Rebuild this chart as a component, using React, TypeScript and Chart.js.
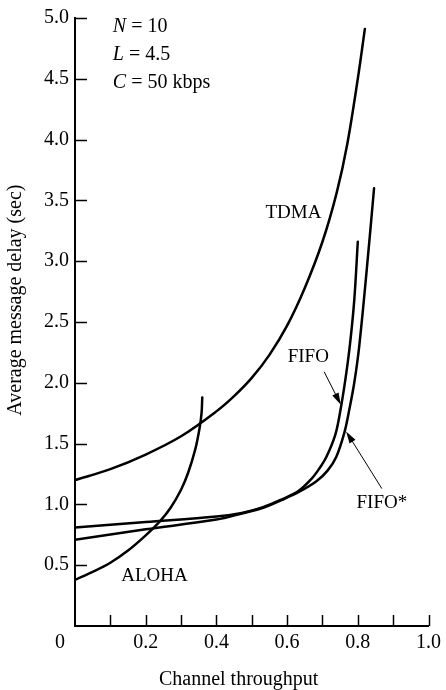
import React, { useEffect, useRef } from "react";
import { Chart, registerables } from "chart.js";

Chart.register(...registerables);

// ---- data ----
const tdmaX = [0, 0.1, 0.2, 0.3, 0.4, 0.45, 0.5, 0.55, 0.6, 0.65, 0.7, 0.74, 0.77, 0.8, 0.82];
const tdmaY = [1.2, 1.29, 1.41, 1.56, 1.765, 1.89, 2.04, 2.23, 2.47, 2.78, 3.16, 3.56, 3.96, 4.5, 4.91];

const alohaX = [0, 0.05, 0.1, 0.15, 0.2, 0.24, 0.27, 0.3, 0.32, 0.34, 0.352, 0.358, 0.36];
const alohaY = [0.38, 0.445, 0.52, 0.62, 0.745, 0.86, 0.97, 1.12, 1.26, 1.45, 1.62, 1.75, 1.88];

const fifoX = [0, 0.2, 0.4, 0.472, 0.53, 0.584, 0.632, 0.669, 0.69, 0.711, 0.736, 0.75, 0.765, 0.778, 0.79, 0.8];
const fifoY = [0.81, 0.855, 0.9, 0.93, 0.975, 1.04, 1.11, 1.21, 1.29, 1.39, 1.57, 1.76, 2.03, 2.32, 2.68, 3.16];

const fifoStarX = [0, 0.2, 0.4, 0.472, 0.53, 0.584, 0.632, 0.683, 0.715, 0.739, 0.762, 0.776, 0.79, 0.804, 0.825, 0.846];
const fifoStarY = [0.71, 0.795, 0.875, 0.925, 0.97, 1.035, 1.1, 1.19, 1.28, 1.39, 1.59, 1.78, 2.0, 2.3, 2.92, 3.6];

const xMin = 0;
const xMax = 1.0;
const xStep = 0.1;
const yMin = 0;
const yMax = 5.0;
const yStep = 0.5;

const xTitle = "Channel throughput";
const yTitle = "Average message delay (sec)";
const paramLines = [
  { sym: "N", rest: " = 10" },
  { sym: "L", rest: " = 4.5" },
  { sym: "C", rest: " = 50 kbps" },
];

// annotation placement (data coordinates)
const paramPos = { x: 0.107, y: [4.93, 4.7, 4.47] };
const curveLabels = [
  { text: "TDMA", x: 0.618, y: 3.4 },
  { text: "ALOHA", x: 0.225, y: 0.41 },
  { text: "FIFO", x: 0.66, y: 2.21 },
  { text: "FIFO*", x: 0.868, y: 1.01 },
];
const arrows = [
  { x1: 0.705, y1: 2.09, x2: 0.752, y2: 1.82 },
  { x1: 0.868, y1: 1.13, x2: 0.767, y2: 1.6 },
];

const FONT_FAMILY = "'Liberation Serif', 'Times New Roman', serif";

const toPoints = (xs: number[], ys: number[]) => xs.map((x, i) => ({ x, y: ys[i] }));

const overlayPlugin = {
  id: "overlay",
  afterDraw(chart: any) {
    const { ctx, scales } = chart;
    const x = scales.x;
    const y = scales.y;
    ctx.save();
    ctx.strokeStyle = "#000";
    ctx.fillStyle = "#000";
    ctx.lineWidth = 1.5;

    // inward tick marks
    x.ticks.forEach((t: any) => {
      if (Math.abs(t.value) < 1e-9) return;
      const px = Math.round(x.getPixelForValue(t.value)) + 0.5;
      ctx.beginPath();
      ctx.moveTo(px, y.bottom);
      ctx.lineTo(px, y.bottom - 11);
      ctx.stroke();
    });
    y.ticks.forEach((t: any) => {
      if (Math.abs(t.value) < 1e-9) return;
      const py = Math.round(y.getPixelForValue(t.value)) + 0.5;
      ctx.beginPath();
      ctx.moveTo(x.left, py);
      ctx.lineTo(x.left + 12, py);
      ctx.stroke();
    });

    // "0" at origin
    ctx.font = `20px ${FONT_FAMILY}`;
    ctx.textAlign = "center";
    ctx.textBaseline = "middle";
    ctx.fillText("0", x.getPixelForValue(0) - 15, y.bottom + 17);

    // axis titles
    ctx.textBaseline = "alphabetic";
    ctx.fillText(xTitle, x.getPixelForValue(0.463), 685);
    ctx.save();
    ctx.translate(21, y.getPixelForValue(2.68));
    ctx.rotate(-Math.PI / 2);
    ctx.fillText(yTitle, 0, 0);
    ctx.restore();

    // parameter block
    ctx.textAlign = "left";
    ctx.textBaseline = "middle";
    paramLines.forEach((ln, i) => {
      const px = x.getPixelForValue(paramPos.x);
      const py = y.getPixelForValue(paramPos.y[i]);
      ctx.font = `italic 20px ${FONT_FAMILY}`;
      ctx.fillText(ln.sym, px, py);
      const w = ctx.measureText(ln.sym).width;
      ctx.font = `20px ${FONT_FAMILY}`;
      ctx.fillText(ln.rest, px + w, py);
    });

    // curve labels
    ctx.font = `19px ${FONT_FAMILY}`;
    ctx.textAlign = "center";
    curveLabels.forEach((l) => {
      ctx.fillText(l.text, x.getPixelForValue(l.x), y.getPixelForValue(l.y));
    });

    // arrows
    ctx.lineWidth = 1;
    arrows.forEach((a) => {
      const x1 = x.getPixelForValue(a.x1);
      const y1 = y.getPixelForValue(a.y1);
      const x2 = x.getPixelForValue(a.x2);
      const y2 = y.getPixelForValue(a.y2);
      const ang = Math.atan2(y2 - y1, x2 - x1);
      const hl = 12;
      const hw = 3.5;
      ctx.beginPath();
      ctx.moveTo(x1, y1);
      ctx.lineTo(x2 - Math.cos(ang) * hl * 0.8, y2 - Math.sin(ang) * hl * 0.8);
      ctx.stroke();
      ctx.beginPath();
      ctx.moveTo(x2, y2);
      ctx.lineTo(
        x2 - Math.cos(ang) * hl - Math.sin(ang) * hw,
        y2 - Math.sin(ang) * hl + Math.cos(ang) * hw
      );
      ctx.lineTo(
        x2 - Math.cos(ang) * hl + Math.sin(ang) * hw,
        y2 - Math.sin(ang) * hl - Math.cos(ang) * hw
      );
      ctx.closePath();
      ctx.fill();
    });

    ctx.restore();
  },
};

export default function App() {
  const canvasRef = useRef<HTMLCanvasElement | null>(null);

  useEffect(() => {
    if (!canvasRef.current) return;
    const lineStyle = {
      showLine: true,
      borderColor: "#000",
      borderWidth: 2.5,
      borderCapStyle: "round" as const,
      borderJoinStyle: "round" as const,
      pointRadius: 0,
      pointHoverRadius: 0,
      tension: 0.35,
      fill: false,
    };
    const chart = new Chart(canvasRef.current, {
      type: "scatter",
      data: {
        datasets: [
          { label: "TDMA", data: toPoints(tdmaX, tdmaY), ...lineStyle },
          { label: "ALOHA", data: toPoints(alohaX, alohaY), ...lineStyle },
          { label: "FIFO", data: toPoints(fifoX, fifoY), ...lineStyle },
          { label: "FIFO*", data: toPoints(fifoStarX, fifoStarY), ...lineStyle },
        ],
      },
      options: {
        animation: false,
        responsive: false,
        devicePixelRatio: 1,
        layout: { padding: { top: 18, right: 15, left: 0, bottom: 0 } },
        plugins: {
          legend: { display: false },
          tooltip: { enabled: false },
        },
        font: { family: FONT_FAMILY },
        scales: {
          x: {
            type: "linear",
            min: xMin,
            max: xMax,
            grid: { display: false, drawTicks: false },
            border: { display: true, color: "#000", width: 2 },
            ticks: {
              stepSize: xStep,
              autoSkip: false,
              maxRotation: 0,
              color: "#000",
              padding: 5,
              font: { family: FONT_FAMILY, size: 20 },
              callback: (v: any) => {
                const n = Math.round(Number(v) * 10);
                return n % 2 === 0 && n !== 0 ? (n / 10).toFixed(1) : "";
              },
            },
            afterFit: (s: any) => {
              s.height = 64;
            },
          },
          y: {
            type: "linear",
            min: yMin,
            max: yMax,
            grid: { display: false, drawTicks: false },
            border: { display: true, color: "#000", width: 2 },
            ticks: {
              stepSize: yStep,
              autoSkip: false,
              color: "#000",
              padding: 6,
              font: { family: FONT_FAMILY, size: 20 },
              callback: (v: any) => (Math.abs(Number(v)) < 1e-9 ? "" : Number(v).toFixed(1)),
            },
            afterFit: (s: any) => {
              s.width = 75;
            },
          },
        },
      },
      plugins: [overlayPlugin],
    });
    return () => chart.destroy();
  }, []);

  return (
    <div style={{ position: "fixed", left: 0, top: 0, width: 446, height: 690, background: "#fff" }}>
      <canvas ref={canvasRef} width={446} height={690} style={{ display: "block" }} />
    </div>
  );
}
